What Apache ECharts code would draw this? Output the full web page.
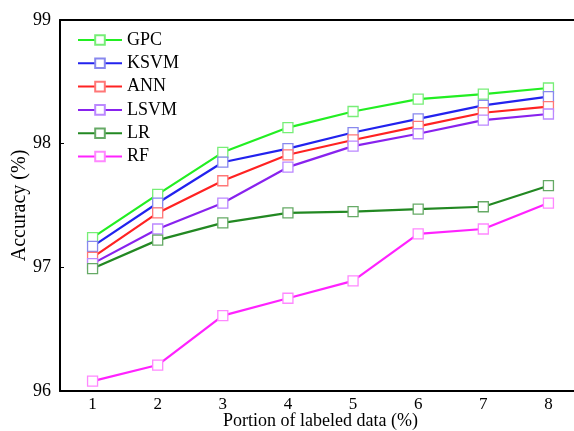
<!DOCTYPE html>
<html>
<head>
<meta charset="utf-8">
<script src="https://cdn.jsdelivr.net/npm/echarts@6/dist/echarts.min.js"></script>
<style>
html, body { margin: 0; padding: 0; background: #fff; }
#main { width: 574px; height: 431px; }
</style>
</head>
<body>
<div id="main"></div>
<script>
const portions = ["1", "2", "3", "4", "5", "6", "7", "8"];
const gpc = [97.24, 97.59, 97.93, 98.13, 98.26, 98.36, 98.40, 98.45];
const ksvm = [97.17, 97.52, 97.85, 97.96, 98.09, 98.20, 98.31, 98.38];
const ann = [97.08, 97.44, 97.70, 97.91, 98.03, 98.14, 98.25, 98.30];
const lsvm = [97.03, 97.31, 97.52, 97.81, 97.98, 98.08, 98.19, 98.24];
const lr = [96.99, 97.22, 97.36, 97.44, 97.45, 97.47, 97.49, 97.66];
const rf = [96.08, 96.21, 96.61, 96.75, 96.89, 97.27, 97.31, 97.52];

const font = "'Liberation Serif', 'DejaVu Serif', serif";

function line(name, data, color, markColor) {
  return {
    name: name,
    type: "line",
    data: data,
    symbol: "rect",
    symbolSize: 10,
    showAllSymbol: true,
    lineStyle: { color: color, width: 2.2 },
    itemStyle: { color: "#fff", borderColor: markColor, borderWidth: 1.3 },
  };
}

let myChart = echarts.init(document.getElementById("main"));
let option = {
  animation: false,
  textStyle: { fontFamily: font },
  grid: { left: 60, top: 20, width: 521, height: 371, outerBoundsMode: "none", containLabel: false },
  legend: {
    orient: "vertical",
    left: 72,
    top: 26,
    itemWidth: 44,
    itemHeight: 12,
    itemGap: 5.3,
    textStyle: { fontFamily: font, fontSize: 18, color: "#000" },
    data: ["GPC", "KSVM", "ANN", "LSVM", "LR", "RF"],
  },
  xAxis: [
    {
      type: "category",
      data: portions,
      boundaryGap: true,
      name: "Portion of labeled data (%)",
      nameLocation: "middle",
      nameGap: 21,
      nameMoveOverlap: false,
      nameTextStyle: { fontFamily: font, fontSize: 18, color: "#000" },
      axisLine: { lineStyle: { color: "#000", width: 2 } },
      axisTick: { alignWithLabel: true, inside: true, length: 4, lineStyle: { color: "#000" } },
      axisLabel: { fontFamily: font, fontSize: 17, color: "#000", margin: 5 },
      splitLine: { show: false },
    },
    {
      type: "category",
      position: "top",
      data: portions,
      boundaryGap: true,
      axisLine: { lineStyle: { color: "#000", width: 2 } },
      axisTick: { alignWithLabel: true, inside: true, length: 4, lineStyle: { color: "#000" } },
      axisLabel: { show: false },
      splitLine: { show: false },
    },
  ],
  yAxis: {
    type: "value",
    min: 96,
    max: 99,
    interval: 1,
    name: "Accuracy (%)",
    nameLocation: "middle",
    nameGap: 30,
    nameMoveOverlap: false,
    nameTextStyle: { fontFamily: font, fontSize: 20, color: "#000" },
    axisLine: { show: true, lineStyle: { color: "#000", width: 2 } },
    axisTick: { show: true, inside: true, length: 4, lineStyle: { color: "#000" } },
    axisLabel: { fontFamily: font, fontSize: 18, color: "#000", margin: 9 },
    splitLine: { show: false },
  },
  series: [
    line("GPC", gpc, "#22ee22", "#77ee77"),
    line("KSVM", ksvm, "#2222ee", "#8888ee"),
    line("ANN", ann, "#ff2222", "#ff7777"),
    line("LSVM", lsvm, "#8822ee", "#bb88ff"),
    line("LR", lr, "#228822", "#66aa66"),
    line("RF", rf, "#ff22ff", "#ff88ff"),
  ],
};
myChart.setOption(option);
</script>
</body>
</html>
